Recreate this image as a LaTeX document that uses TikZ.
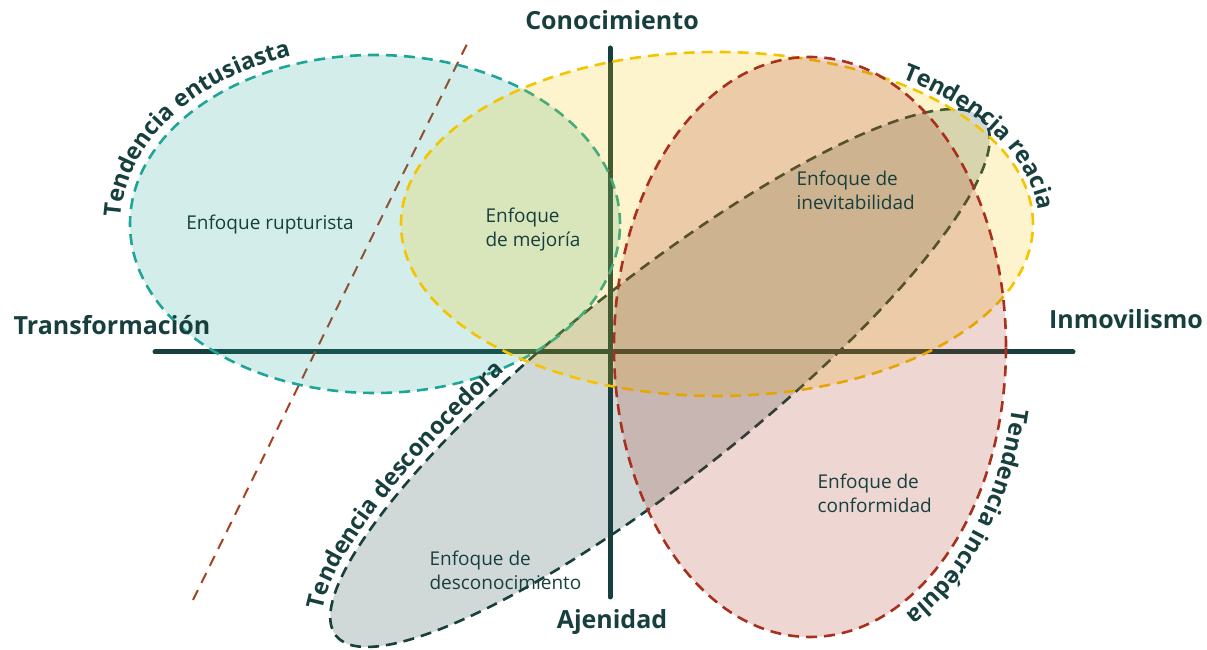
\documentclass[tikz,border=0pt]{standalone}
\usepackage{fontspec}
\setmainfont{Open Sans}
\usepackage{tikz}
\usetikzlibrary{positioning,decorations.text}

\definecolor{axisgreen}{HTML}{173F3D}
\definecolor{entline}{HTML}{1FA597}
\definecolor{realine}{HTML}{F5C400}
\definecolor{incline}{HTML}{A8301C}
\definecolor{cutline}{HTML}{A8401F}

\newcommand{\trendfont}{\fontsize{23.5}{23.5}\selectfont\bfseries}

\begin{document}
\begin{tikzpicture}[x=1pt,y=1pt,
  axis/.style={line width=5pt, draw=axisgreen, line cap=round},
  zone/.style={line width=2.6pt, dash pattern=on 11pt off 7pt, draw=#1, fill=#1, fill opacity=0.2},
  cut/.style={line width=2pt, dash pattern=on 11pt off 8pt, draw=cutline},
  pole/.style={font=\fontsize{25}{28}\selectfont\bfseries, text=axisgreen},
  approach/.style={font=\fontsize{19}{24}\selectfont, text=axisgreen, align=left, anchor=west},
  trend/.style={decorate, decoration={text along path, text align=center,
    text color=axisgreen, text={|\trendfont|#1}}}
] 
\useasboundingbox (0,0) rectangle (1207,650);

\coordinate (ent) at (375,426);
\coordinate (rea) at (717,426);
\coordinate (inc) at (810,303);
\coordinate (des) at (660,272);

% tendencia desconocedora (under the axes)
\draw[zone=axisgreen, rotate around={38.5:(des)}] (des) ellipse [x radius=414, y radius=98];

% axes
\coordinate (west) at (155,298);
\coordinate (east) at (1073,298);
\coordinate (south) at (610,53);
\coordinate (north) at (610,602);
\draw[axis] (west) -- (east);
\draw[axis] (south) -- (north);

\coordinate (cutlo) at (193,50);
\coordinate (cuthi) at (468,608);
\draw[cut] (cutlo) -- (cuthi);

% the other tendencies
\draw[zone=entline] (ent) ellipse [x radius=245, y radius=169];
\draw[zone=realine] (rea) ellipse [x radius=316, y radius=172];
\draw[zone=incline] (inc) ellipse [x radius=196, y radius=290];

% poles
\node[pole] (con) at (612,630) {Conocimiento};
\node[pole] (tra) at (112,325) {Transformación};
\node[pole] (inm) at (1126,331) {Inmovilismo};
\node[pole] (aje) at (612,28) {Ajenidad};

% approaches
\node[approach, anchor=center] (rup) at (270,425) {Enfoque rupturista};
\node[approach] (mej) at (482,420) {Enfoque\\de mejoría};
\node[approach] (ine) at (793,460) {Enfoque de\\inevitabilidad};
\node[approach] (cnf) at (814,157) {Enfoque de\\conformidad};
\node[approach] (dsc) at (426,80) {Enfoque de\\desconocimiento};

% curved labels
\path[trend=Tendencia entusiasta, shift={(ent)}]
  (188:254 and 178) arc [start angle=188, end angle=102, x radius=254, y radius=178];
\path[trend=Tendencia reacia, shift={(rea)}]
  (65:322 and 178) arc [start angle=65, end angle=-12, x radius=322, y radius=178];
\path[trend=Tendencia incrédula, shift={(inc)}]
  (1:207 and 301) arc [start angle=1, end angle=-80, x radius=207, y radius=301];
\path[trend=Tendencia desconocedora, shift={(des)}, rotate=38.5]
  (178:424 and 106) arc [start angle=178, end angle=102, x radius=424, y radius=106];
\end{tikzpicture}
\end{document}
